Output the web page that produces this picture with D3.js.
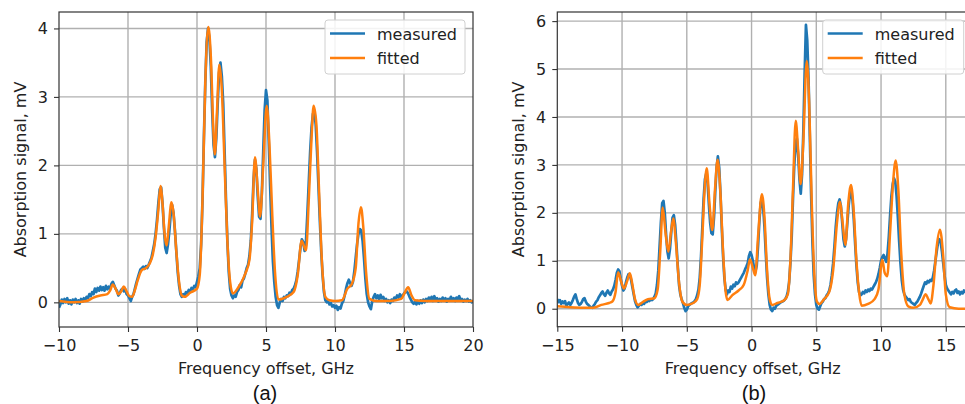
<!DOCTYPE html>
<html><head><meta charset="utf-8">
<script src="https://cdn.jsdelivr.net/npm/d3@7"></script>
<style>
html,body{margin:0;padding:0;background:#fff;}
svg{display:block;}
text{font-family:"DejaVu Sans",sans-serif;}
</style></head>
<body>
<svg id="chart" width="965" height="404"></svg>
<script>
// ---------- Panel (a) ----------
const aXTicks = [-10, -5, 0, 5, 10, 15, 20];
const aYTicks = [0, 1, 2, 3, 4];
// measured: sampled every 0.1 GHz from -10 to 20
const aMeasuredStart = -10, aMeasuredStep = 0.1;
const aMeasured = [
-0.08,-0.03,0.04,-0.01,0.05,0.0,0.06,-0.02,0.03,-0.03,0.04,0.0,0.05,-0.01,0.03,-0.02,0.05,0.01,0.06,0.03,
0.08,0.06,0.12,0.09,0.15,0.12,0.2,0.15,0.21,0.17,0.23,0.18,0.22,0.17,0.24,0.19,0.23,0.2,0.27,0.3,
0.25,0.2,0.17,0.1,0.13,0.18,0.2,0.16,0.19,0.12,0.1,0.06,0.02,0.08,0.12,0.2,0.28,0.35,0.42,0.48,
0.5,0.52,0.49,0.53,0.5,0.55,0.6,0.65,0.75,0.85,1.0,1.2,1.45,1.65,1.68,1.45,1.1,0.8,0.72,0.85,
1.05,1.3,1.42,1.3,1.05,0.75,0.45,0.25,0.12,0.08,0.12,0.1,0.15,0.13,0.18,0.16,0.21,0.19,0.24,0.22,
0.3,0.38,0.5,0.85,1.5,2.4,3.2,3.8,4.0,3.85,3.45,2.8,2.3,2.12,2.4,2.9,3.35,3.5,3.3,2.9,
2.2,1.5,0.9,0.45,0.2,0.1,0.06,0.1,0.08,0.15,0.18,0.25,0.22,0.32,0.35,0.42,0.5,0.55,0.68,0.9,
1.3,1.8,2.08,1.95,1.55,1.25,1.22,1.6,2.2,2.8,3.1,2.95,2.35,1.7,1.1,0.6,0.3,0.08,-0.04,-0.08,
0.0,0.05,0.02,0.08,0.06,0.1,0.09,0.14,0.12,0.18,0.2,0.25,0.32,0.45,0.62,0.8,0.92,0.88,0.75,0.9,
1.3,1.75,2.2,2.55,2.75,2.8,2.6,2.2,1.7,1.2,0.75,0.4,0.15,0.03,0.0,0.02,-0.03,-0.01,-0.06,-0.04,
-0.08,-0.05,-0.11,-0.07,-0.09,-0.02,0.02,0.1,0.2,0.28,0.33,0.28,0.24,0.3,0.45,0.65,0.85,1.0,1.07,1.05,
0.9,0.65,0.35,0.12,0.0,-0.06,-0.1,0.02,0.08,0.12,0.06,0.1,0.04,0.11,0.06,0.08,0.02,0.05,0.0,0.03,
-0.01,0.04,0.02,0.07,0.05,0.1,0.07,0.12,0.08,0.1,0.13,0.15,0.16,0.13,0.08,0.04,0.0,-0.02,0.01,-0.03,
0.02,-0.02,0.03,-0.01,0.04,0.0,0.05,0.02,0.07,0.03,0.08,0.02,0.09,0.04,0.06,0.01,0.05,0.02,0.07,0.03,
0.06,0.01,0.05,0.03,0.08,0.04,0.06,0.02,0.07,0.05,0.09,0.03,0.05,0.01,0.04,0.02,0.05,0.01,0.03,0.0,
0.01];
const aFittedFreq = [-10,-9,-8,-7.5,-7,-6.5,-6.3,-6.1,-5.9,-5.7,-5.5,-5.3,-5.1,-4.9,-4.7,-4.5,-4.3,-4.0,-3.7,-3.4,
-3.2,-3.0,-2.8,-2.65,-2.5,-2.35,-2.2,-2.05,-1.85,-1.7,-1.5,-1.3,-1.1,-0.9,-0.5,0,0.2,0.4,0.6,0.82,
1.0,1.2,1.3,1.45,1.62,1.8,2.0,2.2,2.4,2.6,3.0,3.5,3.8,4.0,4.2,4.4,4.57,4.8,5.05,5.25,
5.45,5.65,5.9,6.5,7.0,7.3,7.58,7.9,8.1,8.3,8.45,8.65,8.85,9.05,9.3,9.6,10,10.5,10.9,11.2,
11.5,11.7,11.88,12.05,12.25,12.5,13,14,14.8,15.05,15.3,15.55,15.8,16.5,20];
const aFitted = [0.02,0.0,0.02,0.07,0.1,0.12,0.17,0.26,0.2,0.12,0.16,0.23,0.16,0.09,0.08,0.18,0.32,0.47,0.5,0.58,
0.7,0.95,1.35,1.7,1.45,1.0,0.83,1.1,1.46,1.3,0.75,0.3,0.1,0.08,0.14,0.2,0.4,1.5,3.2,4.02,
3.6,2.45,2.16,2.8,3.47,3.1,2.0,0.9,0.3,0.13,0.22,0.42,0.62,1.2,2.12,1.65,1.25,2.0,2.87,2.3,
1.3,0.45,0.04,0.08,0.15,0.4,0.9,0.76,1.5,2.4,2.87,2.6,1.6,0.6,0.08,0.03,0.02,0.03,0.2,0.26,
0.5,1.15,1.39,1.1,0.45,0.05,0.02,0.02,0.05,0.14,0.22,0.1,0.03,0.02,0.02];

// ---------- Panel (b) ----------
const bXTicks = [-15, -10, -5, 0, 5, 10, 15];
const bYTicks = [0, 1, 2, 3, 4, 5, 6];
const bMeasuredStart = -15, bMeasuredStep = 0.1;
const bMeasured = [
0.2,0.14,0.18,0.1,0.15,0.12,0.16,0.06,0.1,0.13,0.08,0.12,0.18,0.25,0.3,0.2,0.12,0.08,0.1,0.14,
0.2,0.22,0.15,0.1,0.08,0.05,0.03,0.02,0.06,0.1,0.15,0.18,0.24,0.28,0.33,0.36,0.3,0.27,0.34,0.38,
0.32,0.29,0.36,0.4,0.48,0.6,0.75,0.82,0.78,0.62,0.48,0.38,0.42,0.55,0.65,0.72,0.7,0.6,0.45,0.3,
0.16,0.08,0.03,0.06,0.1,0.08,0.12,0.1,0.15,0.14,0.17,0.16,0.19,0.18,0.2,0.25,0.32,0.5,0.8,1.3,
1.8,2.2,2.25,2.0,1.55,1.2,1.05,1.25,1.6,1.9,1.95,1.75,1.35,0.9,0.5,0.3,0.2,0.12,0.02,-0.05,
-0.02,0.05,0.08,0.1,0.12,0.13,0.16,0.2,0.28,0.4,0.65,1.1,1.7,2.3,2.7,2.82,2.65,2.2,1.8,1.58,
1.55,1.9,2.45,2.95,3.18,2.95,2.4,1.7,1.1,0.65,0.4,0.3,0.38,0.35,0.46,0.42,0.5,0.47,0.55,0.52,
0.55,0.6,0.65,0.7,0.75,0.82,0.88,0.95,1.1,1.18,1.12,1.0,0.85,0.78,0.9,1.3,1.8,2.2,2.3,2.1,
1.7,1.15,0.65,0.3,0.08,-0.02,-0.05,0.02,0.0,0.06,0.08,0.1,0.12,0.14,0.15,0.17,0.2,0.25,0.35,0.55,
0.95,1.5,2.3,3.0,3.45,3.55,3.2,2.7,2.4,2.8,3.7,4.9,5.92,5.6,4.8,3.6,2.4,1.4,0.7,0.3,
0.08,0.0,-0.02,0.05,0.12,0.15,0.2,0.22,0.28,0.32,0.38,0.5,0.7,0.95,1.3,1.7,2.0,2.2,2.28,2.15,
1.8,1.45,1.3,1.45,1.8,2.15,2.4,2.45,2.25,1.85,1.35,0.9,0.55,0.35,0.28,0.3,0.35,0.32,0.38,0.35,
0.4,0.37,0.42,0.4,0.45,0.5,0.55,0.62,0.72,0.85,1.0,1.08,1.12,1.05,0.98,1.15,1.5,1.95,2.35,2.6,
2.72,2.65,2.35,1.9,1.4,0.95,0.6,0.4,0.3,0.25,0.22,0.18,0.2,0.14,0.12,0.1,0.08,0.12,0.15,0.2,
0.25,0.32,0.4,0.48,0.55,0.52,0.58,0.55,0.6,0.58,0.65,0.8,1.0,1.2,1.38,1.45,1.4,1.2,0.95,0.7,
0.5,0.42,0.38,0.34,0.3,0.35,0.32,0.38,0.4,0.33,0.36,0.3,0.35,0.32,0.38,0.33];
const bFittedFreq = [-15,-14,-13,-12.2,-11.6,-11,-10.75,-10.5,-10.3,-10.05,-9.85,-9.6,-9.4,-9.2,-9.0,-8.75,-8.4,-8.0,-7.5,-7.25,
-7.05,-6.86,-6.65,-6.43,-6.22,-6.04,-5.85,-5.6,-5.35,-5.0,-4.5,-4.2,-4.0,-3.8,-3.62,-3.46,-3.25,-3.03,-2.82,-2.62,
-2.42,-2.2,-2.0,-1.85,-1.5,-1.0,-0.6,-0.3,-0.12,0.1,0.29,0.5,0.8,1.0,1.2,1.4,1.6,2.0,2.5,2.8,
3.0,3.2,3.41,3.6,3.79,4.0,4.26,4.45,4.65,4.85,5.05,5.25,5.6,6.0,6.3,6.6,6.83,7.03,7.24,7.47,
7.68,7.9,8.1,8.3,8.5,9.0,9.5,9.8,10.1,10.28,10.48,10.7,10.92,11.13,11.33,11.55,11.8,12.1,12.5,13.0,
13.2,13.45,13.65,13.83,14.05,14.3,14.55,14.8,15.0,15.3,16.0,16.6];
const bFitted = [0.05,0.03,0.02,0.02,0.08,0.12,0.15,0.35,0.76,0.55,0.42,0.58,0.74,0.5,0.2,0.08,0.14,0.2,0.22,0.4,
1.2,2.11,1.6,1.19,1.6,1.88,1.4,0.55,0.15,0.08,0.12,0.2,0.5,1.5,2.5,2.93,2.2,1.64,2.5,3.11,
2.5,1.2,0.35,0.18,0.28,0.38,0.5,0.8,1.03,0.85,0.7,1.5,2.39,1.9,0.8,0.2,0.08,0.12,0.17,0.3,
1.0,2.5,3.92,3.3,2.6,3.5,5.17,4.3,2.2,0.7,0.15,0.1,0.2,0.35,0.8,1.8,2.23,1.8,1.33,2.2,
2.58,2.0,1.0,0.35,0.06,0.1,0.2,0.4,1.02,0.75,0.68,1.6,2.6,3.09,2.5,1.2,0.3,0.05,0.02,0.08,
0.18,0.3,0.2,0.11,0.5,1.3,1.65,1.1,0.3,0.03,0.0,0.0];

const seriesNames = ["measured", "fitted"];
const seriesColors = ["#1f77b4", "#ff7f0e"];
const xLabel = "Frequency offset, GHz";
const yLabel = "Absorption signal, mV";

const FS = "16px";
const svg = d3.select("#chart");
svg.append("rect").attr("width", 965).attr("height", 404).attr("fill", "#fff");

function panel(cfg) {
  const x = d3.scaleLinear().domain(cfg.xDomain).range([cfg.left, cfg.right]);
  const y = d3.scaleLinear().domain(cfg.yDomain).range([cfg.bottom, cfg.top]);
  const g = svg.append("g");
  const clipId = "clip-" + cfg.id;
  g.append("clipPath").attr("id", clipId).append("rect")
    .attr("x", cfg.left).attr("y", cfg.top)
    .attr("width", cfg.right - cfg.left).attr("height", cfg.bottom - cfg.top);

  // grid
  const grid = g.append("g").attr("stroke", "#b0b0b0").attr("stroke-width", 1.4);
  cfg.xTicks.forEach(t => {
    if (x(t) > cfg.left + 1 && x(t) < cfg.right - 1)
      grid.append("line").attr("x1", x(t)).attr("x2", x(t)).attr("y1", cfg.top).attr("y2", cfg.bottom);
  });
  cfg.yTicks.forEach(t => {
    grid.append("line").attr("x1", cfg.left).attr("x2", cfg.right).attr("y1", y(t)).attr("y2", y(t));
  });

  const mData = cfg.measured.map((v, i) => [+(cfg.mStart + i * cfg.mStep).toFixed(2), v]);
  const fData = cfg.fittedFreq.map((f, i) => [f, cfg.fitted[i]]);
  const lineM = d3.line().x(d => x(d[0])).y(d => y(d[1]));
  const lineF = d3.line().x(d => x(d[0])).y(d => y(d[1])).curve(d3.curveMonotoneX);
  const plot = g.append("g").attr("clip-path", `url(#${clipId})`);
  plot.append("path").datum(mData).attr("d", lineM).attr("fill", "none")
    .attr("stroke", seriesColors[0]).attr("stroke-width", 2.7).attr("stroke-linejoin", "round");
  plot.append("path").datum(fData).attr("d", lineF).attr("fill", "none")
    .attr("stroke", seriesColors[1]).attr("stroke-width", 2.5).attr("stroke-linejoin", "round");

  // axes
  const xAxis = d3.axisBottom(x).tickValues(cfg.xTicks).tickSize(5).tickPadding(8)
    .tickFormat(d => d < 0 ? "\u2212" + Math.abs(d) : String(d));
  const yAxis = d3.axisLeft(y).tickValues(cfg.yTicks).tickSize(5).tickPadding(6)
    .tickFormat(d3.format("d"));
  const gx = g.append("g").attr("transform", `translate(0,${cfg.bottom})`).call(xAxis);
  const gy = g.append("g").attr("transform", `translate(${cfg.left},0)`).call(yAxis);
  [gx, gy].forEach(a => {
    a.select(".domain").remove();
    a.selectAll(".tick line").attr("stroke", "#333").attr("stroke-width", 1.1);
    a.selectAll(".tick text").attr("fill", "#222").style("font-size", FS)
      .style("font-family", "DejaVu Sans");
  });
  // spines
  g.append("rect").attr("x", cfg.left).attr("y", cfg.top)
    .attr("width", cfg.right - cfg.left).attr("height", cfg.bottom - cfg.top)
    .attr("fill", "none").attr("stroke", "#333").attr("stroke-width", 1.2);

  // labels
  g.append("text").attr("x", (cfg.left + cfg.labelRight) / 2).attr("y", 374)
    .attr("text-anchor", "middle").attr("fill", "#222").style("font-size", FS).text(xLabel);
  g.append("text").attr("transform", `translate(${cfg.yLabelX},${(cfg.top + cfg.bottom) / 2}) rotate(-90)`)
    .attr("text-anchor", "middle").attr("fill", "#222").style("font-size", FS).text(yLabel);
  g.append("text").attr("x", cfg.captionX).attr("y", 400).attr("text-anchor", "middle")
    .attr("fill", "#111").style("font-family", "Liberation Sans, Arial, sans-serif")
    .style("font-size", "20px").text(cfg.caption);

  // legend
  const lg = g.append("g").attr("transform", `translate(${cfg.legX},${cfg.legY})`);
  lg.append("rect").attr("x", 0).attr("y", 0).attr("width", cfg.legW).attr("height", 54)
    .attr("rx", 3).attr("fill", "#fff").attr("fill-opacity", 0.85)
    .attr("stroke", "#d0d0d0").attr("stroke-width", 1);
  seriesNames.forEach((n, i) => {
    const yy = 13.5 + i * 24.5;
    lg.append("line").attr("x1", 5).attr("x2", 40).attr("y1", yy).attr("y2", yy)
      .attr("stroke", seriesColors[i]).attr("stroke-width", 2.5);
    lg.append("text").attr("x", 52).attr("y", yy + 6).attr("fill", "#222")
      .style("font-size", FS).text(n);
  });
}

panel({id: "a", left: 59, right: 473, top: 12, bottom: 327, labelRight: 473,
  xDomain: [-10, 20], yDomain: [-0.36, 4.24], xTicks: aXTicks, yTicks: aYTicks,
  measured: aMeasured, mStart: aMeasuredStart, mStep: aMeasuredStep,
  fittedFreq: aFittedFreq, fitted: aFitted, yLabelX: 26, caption: "(a)", captionX: 265,
  legX: 325, legY: 20, legW: 140});

panel({id: "b", left: 557.3, right: 966, top: 12, bottom: 326.7, labelRight: 948,
  xDomain: [-15, 16.56], yDomain: [-0.375, 6.19], xTicks: bXTicks, yTicks: bYTicks,
  measured: bMeasured, mStart: bMeasuredStart, mStep: bMeasuredStep,
  fittedFreq: bFittedFreq, fitted: bFitted, yLabelX: 524, caption: "(b)", captionX: 754,
  legX: 822.7, legY: 20, legW: 141});
</script>
</body></html>
